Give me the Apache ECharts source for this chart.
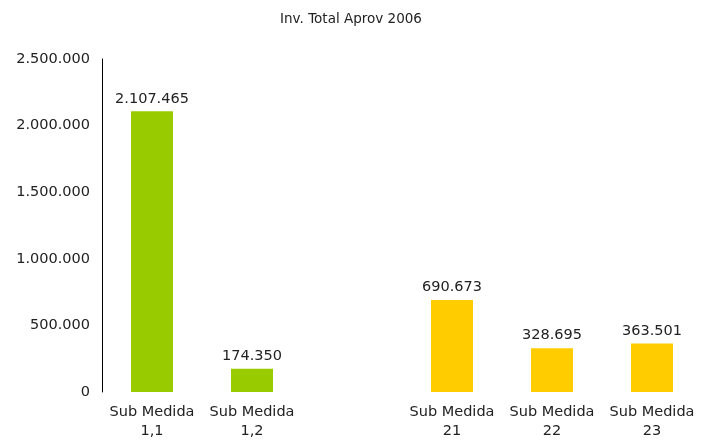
<!DOCTYPE html>
<html>
<head>
<meta charset="utf-8">
<script src="https://cdn.jsdelivr.net/npm/echarts@6/dist/echarts.min.js"></script>
<style>
  html, body { margin: 0; padding: 0; background: #fff; }
  #chart { width: 702px; height: 442px; }
</style>
</head>
<body>
<div id="chart"></div>
<script>
var categories = ['Sub Medida\n1,1', 'Sub Medida\n1,2', '', 'Sub Medida\n21', 'Sub Medida\n22', 'Sub Medida\n23'];
var greenValues = [2107465, 174350, null, null, null, null];
var yellowValues = [null, null, null, 690673, 328695, 363501];
var yTicks = [0, 500000, 1000000, 1500000, 2000000, 2500000];

var font = 'Verdana, "DejaVu Sans", sans-serif';

function fmt(v) {
	return String(Math.round(v)).replace(/\B(?=(\d{3})+(?!\d))/g, '.');
}

var chart = echarts.init(document.getElementById('chart'));

var barLabel = {
	show: true,
	position: 'top',
	distance: 5,
	color: '#222',
	fontFamily: font,
	fontSize: 14.5,
	formatter: function (p) { return fmt(p.value); }
};

chart.setOption({
	animation: false,
	title: {
		text: 'Inv. Total Aprov 2006',
		left: 'center',
		top: 7,
		textStyle: { fontFamily: font, fontSize: 13.5, fontWeight: 'normal', color: '#222' }
	},
	grid: { left: 102, right: -5, top: 59, bottom: 50 },
	xAxis: {
		type: 'category',
		data: categories,
		axisLine: { show: false },
		axisTick: { show: false },
		axisLabel: { color: '#222', fontFamily: font, fontSize: 14.5, lineHeight: 19, margin: 11, interval: 0 }
	},
	yAxis: {
		type: 'value',
		min: yTicks[0],
		max: yTicks[yTicks.length - 1],
		interval: 500000,
		axisLine: { show: true, lineStyle: { color: '#000', width: 1 } },
		axisTick: { show: false },
		splitLine: { show: false },
		axisLabel: { color: '#222', fontFamily: font, fontSize: 14.5, margin: 12, formatter: fmt }
	},
	series: [
		{ type: 'bar', stack: 'all', data: greenValues, barWidth: 42, itemStyle: { color: '#99CC00' }, label: barLabel },
		{ type: 'bar', stack: 'all', data: yellowValues, barWidth: 42, itemStyle: { color: '#FFCC00' }, label: barLabel }
	]
});
</script>
</body>
</html>
